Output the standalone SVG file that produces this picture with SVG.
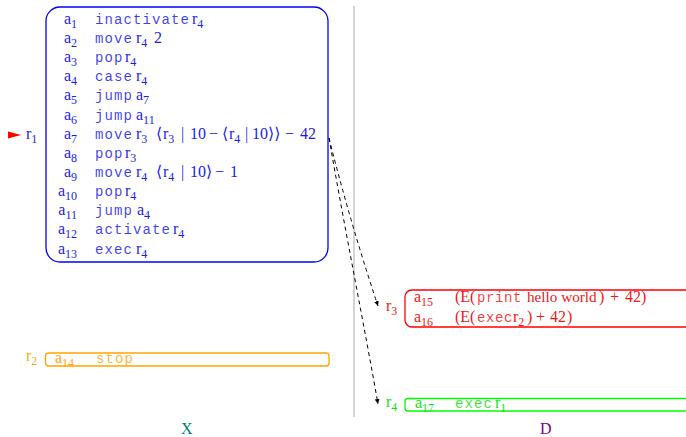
<svg xmlns="http://www.w3.org/2000/svg" width="686" height="437" viewBox="0 0 686 437">
<style>
.m{font-family:"Liberation Serif","DejaVu Serif",serif;font-size:16px}
.s{font-size:12px}
.tt{font-family:"Liberation Mono","DejaVu Sans Mono",monospace;font-size:14px;letter-spacing:1.1px;fill-opacity:0.85}
.tr{letter-spacing:0.6px}
.blue{fill:#1c1cf0}
.red{fill:#f01818}
.org{fill:#ffa620}
.grn{fill:#18e018}
.box{fill:none;stroke-width:1.3}
.conn{fill:none;stroke:#000;stroke-width:1;stroke-dasharray:4 3.5}
</style>
<defs>
<marker id="ah" markerUnits="userSpaceOnUse" markerWidth="6" markerHeight="6" refX="5" refY="3" orient="auto">
<path d="M0,0.6 L5,3 L0,5.4 z" fill="#000"/>
</marker>
</defs>
<rect width="686" height="437" fill="#fff"/>
<g id="divider"><line x1="354" y1="6" x2="354" y2="417" stroke="#bdbdbd" stroke-width="1.3"/></g>
<g id="node-r1">
<rect class="box" x="46" y="7" width="282" height="255" rx="14" stroke="#0000ff"/>
<polygon points="8,131.5 21,135 8,138.5" fill="#ff0000"/>
<text class="m blue" x="26" y="139">r<tspan class="s" dy="3.5">1</tspan></text>
<g class="m blue">
<text x="77" y="24" text-anchor="end">a<tspan class="s" dy="3.5">1</tspan></text>
<text x="77" y="43" text-anchor="end">a<tspan class="s" dy="3.5">2</tspan></text>
<text x="77" y="62" text-anchor="end">a<tspan class="s" dy="3.5">3</tspan></text>
<text x="77" y="81" text-anchor="end">a<tspan class="s" dy="3.5">4</tspan></text>
<text x="77" y="100" text-anchor="end">a<tspan class="s" dy="3.5">5</tspan></text>
<text x="77" y="120" text-anchor="end">a<tspan class="s" dy="3.5">6</tspan></text>
<text x="77" y="139" text-anchor="end">a<tspan class="s" dy="3.5">7</tspan></text>
<text x="77" y="158" text-anchor="end">a<tspan class="s" dy="3.5">8</tspan></text>
<text x="77" y="177" text-anchor="end">a<tspan class="s" dy="3.5">9</tspan></text>
<text x="77" y="196" text-anchor="end">a<tspan class="s" dy="3.5">10</tspan></text>
<text x="77" y="215" text-anchor="end">a<tspan class="s" dy="3.5">11</tspan></text>
<text x="77" y="234" text-anchor="end">a<tspan class="s" dy="3.5">12</tspan></text>
<text x="77" y="254" text-anchor="end">a<tspan class="s" dy="3.5">13</tspan></text>

<text y="24"><tspan class="tt" x="95">inactivate</tspan><tspan x="192">r</tspan><tspan class="s" dy="3.5">4</tspan></text>
<text y="43"><tspan class="tt" x="95">move</tspan><tspan x="136">r</tspan><tspan class="s" dy="3.5">4</tspan><tspan x="154" dy="-3.5">2</tspan></text>
<text y="62"><tspan class="tt" x="95">pop</tspan><tspan x="125">r</tspan><tspan class="s" dy="3.5">4</tspan></text>
<text y="81"><tspan class="tt" x="95">case</tspan><tspan x="136">r</tspan><tspan class="s" dy="3.5">4</tspan></text>
<text y="100"><tspan class="tt" x="95">jump</tspan><tspan x="136">a</tspan><tspan class="s" dy="3.5">7</tspan></text>
<text y="120"><tspan class="tt" x="95">jump</tspan><tspan x="136">a</tspan><tspan class="s" dy="3.5">11</tspan></text>
<text y="139"><tspan class="tt" x="95">move</tspan><tspan x="136">r</tspan><tspan class="s" dy="3.5">3</tspan><tspan x="156" dy="-3.5">⟨</tspan><tspan x="163">r</tspan><tspan class="s" dy="3.5">3</tspan><tspan x="181" dy="-3.5">|</tspan><tspan x="190">10</tspan><tspan x="209">−</tspan><tspan x="222">⟨</tspan><tspan x="229">r</tspan><tspan class="s" dy="3.5">4</tspan><tspan x="245" dy="-3.5">|</tspan><tspan x="252">10</tspan><tspan x="268">⟩⟩</tspan><tspan x="285">−</tspan><tspan x="300">42</tspan></text>
<text y="158"><tspan class="tt" x="95">pop</tspan><tspan x="125">r</tspan><tspan class="s" dy="3.5">3</tspan></text>
<text y="177"><tspan class="tt" x="95">move</tspan><tspan x="136">r</tspan><tspan class="s" dy="3.5">4</tspan><tspan x="156" dy="-3.5">⟨</tspan><tspan x="163">r</tspan><tspan class="s" dy="3.5">4</tspan><tspan x="181" dy="-3.5">|</tspan><tspan x="190">10</tspan><tspan x="206">⟩</tspan><tspan x="215">−</tspan><tspan x="230">1</tspan></text>
<text y="196"><tspan class="tt" x="95">pop</tspan><tspan x="125">r</tspan><tspan class="s" dy="3.5">4</tspan></text>
<text y="215"><tspan class="tt" x="95">jump</tspan><tspan x="137">a</tspan><tspan class="s" dy="3.5">4</tspan></text>
<text y="234"><tspan class="tt" x="95">activate</tspan><tspan x="173">r</tspan><tspan class="s" dy="3.5">4</tspan></text>
<text y="254"><tspan class="tt" x="95">exec</tspan><tspan x="136">r</tspan><tspan class="s" dy="3.5">4</tspan></text>
</g>
</g>
<g id="node-r2">
<rect class="box" x="45.5" y="353" width="283.5" height="13" rx="3" stroke="#ffa500"/>
<text class="m org" x="26" y="361">r<tspan class="s" dy="3.5">2</tspan></text>
<text class="m org" x="55" y="363">a<tspan class="s" dy="3.5">14</tspan></text>
<text class="tt org" x="96" y="363">stop</text>
</g>
<g id="node-r3">
<rect class="box" x="405" y="290" width="290" height="37" rx="7" stroke="#ff0000"/>
<text class="m red" x="386" y="311">r<tspan class="s" dy="3.5">3</tspan></text>
<g class="m red">
<text x="414" y="302">a<tspan class="s" dy="3.5">15</tspan></text>
<text y="302"><tspan x="455">(E(</tspan><tspan class="tt tr" x="477">print</tspan><tspan x="527" font-size="15.2">hello world</tspan><tspan x="599">)</tspan><tspan x="610">+</tspan><tspan x="625">42</tspan><tspan x="641">)</tspan></text>
<text x="414" y="322">a<tspan class="s" dy="3.5">16</tspan></text>
<text y="322"><tspan x="455">(E(</tspan><tspan class="tt tr" x="477">exec</tspan><tspan x="513">r</tspan><tspan class="s" dy="3.5">2</tspan><tspan x="527" dy="-3.5">)</tspan><tspan x="536">+</tspan><tspan x="550">42</tspan><tspan x="567">)</tspan></text>
</g>
</g>
<g id="node-r4">
<rect class="box" x="405" y="398.5" width="290" height="12.5" rx="3" stroke="#00ff00"/>
<text class="m grn" x="386" y="407">r<tspan class="s" dy="3.5">4</tspan></text>
<text class="m grn" x="415" y="408">a<tspan class="s" dy="3.5">17</tspan></text>
<text y="408"><tspan class="tt grn" x="455">exec</tspan><tspan class="m grn" x="495">r</tspan><tspan class="m grn s" dy="3.5">1</tspan></text>
</g>
<g id="connectors">
<path class="conn" d="M329,138 Q350,222 378,306" marker-end="url(#ah)"/>
<path class="conn" d="M329,138 C345,230 365,330 378,404" marker-end="url(#ah)"/>
</g>
<g id="labels">
<text class="m" x="181" y="434" fill="#008080">X</text>
<text class="m" x="540" y="434" fill="#800080">D</text>
</g>
</svg>
